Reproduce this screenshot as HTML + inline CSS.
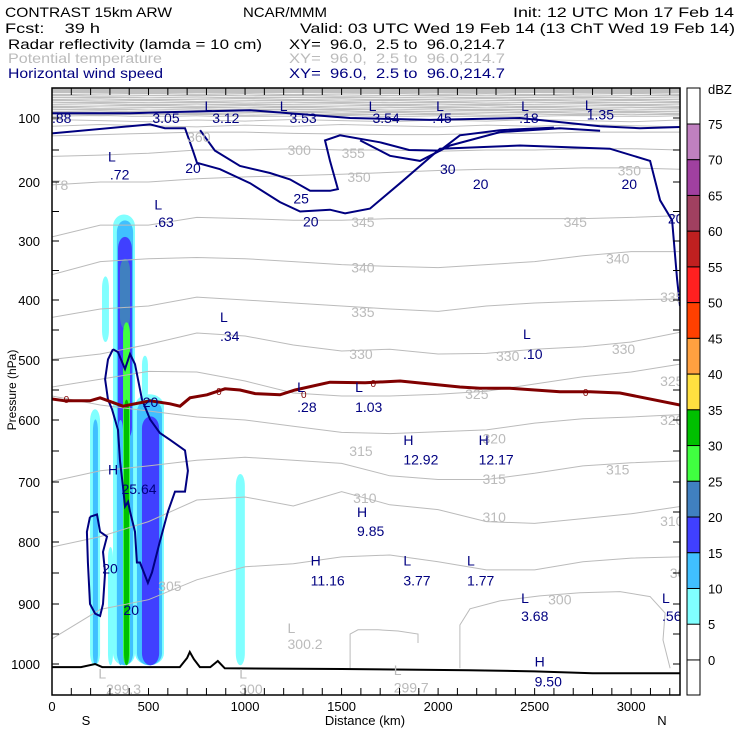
<!DOCTYPE html>
<html><head><meta charset="utf-8">
<style>
html,body{margin:0;padding:0;background:#fff;}
svg{display:block;font-family:"Liberation Sans",sans-serif;}
</style></head>
<body>
<svg id="chart" width="740" height="740" viewBox="0 0 740 740" xmlns="http://www.w3.org/2000/svg">
<g font-size="14">
<text x="5" y="17" textLength="167" lengthAdjust="spacingAndGlyphs">CONTRAST 15km ARW</text>
<text x="243" y="17" textLength="84" lengthAdjust="spacingAndGlyphs">NCAR/MMM</text>
<text x="513" y="17" textLength="221" lengthAdjust="spacingAndGlyphs">Init: 12 UTC Mon 17 Feb 14</text>
<text x="5" y="33" textLength="95" lengthAdjust="spacingAndGlyphs" xml:space="preserve">Fcst:    39 h</text>
<text x="300" y="33" textLength="435" lengthAdjust="spacingAndGlyphs">Valid: 03 UTC Wed 19 Feb 14 (13 ChT Wed 19 Feb 14)</text>
<text x="8" y="49" textLength="254" lengthAdjust="spacingAndGlyphs">Radar reflectivity (lamda = 10 cm)</text>
<text x="289" y="49" textLength="216" lengthAdjust="spacingAndGlyphs" xml:space="preserve">XY=  96.0,  2.5 to  96.0,214.7</text>
<text x="8" y="63" fill="#bbb" textLength="154" lengthAdjust="spacingAndGlyphs">Potential temperature</text>
<text x="289" y="63" fill="#bbb" textLength="216" lengthAdjust="spacingAndGlyphs" xml:space="preserve">XY=  96.0,  2.5 to  96.0,214.7</text>
<text x="8" y="78" fill="#000080" textLength="155" lengthAdjust="spacingAndGlyphs">Horizontal wind speed</text>
<text x="289" y="78" fill="#000080" textLength="216" lengthAdjust="spacingAndGlyphs" xml:space="preserve">XY=  96.0,  2.5 to  96.0,214.7</text>
</g>
<defs><clipPath id="plotclip"><rect x="52" y="88" width="628" height="607"/></clipPath></defs>
<g id="plot" clip-path="url(#plotclip)"></g>
<g id="overlay"></g>
</svg>
<script>
// ---- data ----
const pTicks = [100,200,300,400,500,600,700,800,900,1000];
const kmTicks = [0,500,1000,1500,2000,2500,3000];
const thetaNodesKm = [0,250,500,750,1000,1250,1500,1750,2000,2250,2500,2750,3000,3250];
const theta345 = [293,273,273,260,262,265,265,262,262,262,262,262,260,257];
const theta340 = [357,335,330,328,330,335,340,343,345,340,335,325,318,318];
const theta335 = [429,415,410,395,400,405,410,415,419,410,405,402,400,398];
const theta330 = [499,490,474,455,460,475,485,482,490,489,482,478,470,454];
const theta325 = [545,532,519,520,535,555,560,560,557,552,540,528,520,507];
const theta320 = [560,575,585,595,600,610,620,622,619,616,605,598,595,591];
const theta315 = [699,682,674,665,660,665,670,690,696,696,686,674,669,666];
const theta310 = [808,791,766,730,725,740,716,738,746,766,769,761,753,741];
const theta305 = [958,909,893,861,840,835,824,821,832,845,845,832,826,824];
const theta350 = [205,200,200,195,192,190,188,185,182,180,180,178,178,180];
const theta355 = [160,158,155,150,150,148,150,150,152,150,150,148,148,150];
const theta360 = [128,126,124,122,122,124,125,126,126,124,124,122,122,122];
const thetaBand = [60,64,68,72,76,80,84,88,92,96,104,112];
const theta300Right = [[2113,1007],[2113,935],[2165,908],[2320,895],[2527,887],[2735,882],[2942,880],[3098,888],[3176,915],[3165,960],[3202,1007]];
const theta299Closed = [[1544,1007],[1544,950],[1585,943],[1689,943],[1793,945],[1896,950],[1896,965]];
const freezingLine = [[0,565],[67,568],[197,568],[249,563],[368,577],[508,568],[611,573],[663,577],[715,563],[803,558],[896,548],[974,550],[1052,556],[1181,558],[1259,550],[1440,537],[1622,538],[1803,535],[1958,540],[2113,545],[2216,547],[2372,547],[2631,553],[2787,553],[2942,555],[3253,575]];
const surfaceKm  = [0,150,223,260,662,700,714,735,766,820,859,895,1500,2160,2500,2800,3253];
const surfaceHPa = [1005,1005,1000,1005,1005,990,980,992,1005,1005,995,1007,1008,1010,1012,1015,1015];
const wind20Top = [[0,92],[404,92],[637,90],[1026,87],[1544,100],[1958,103],[2424,100],[2839,113],[3046,116],[3253,114]];
const wind20Main = [[0,124],[508,110],[585,116],[689,116],[730,151],[751,170],[870,180],[1026,202],[1181,234],[1285,250],[1440,247],[1518,253],[1647,245],[1803,202],[2010,148],[2424,143],[2890,148],[3098,167],[3150,231],[3212,265],[3238,365],[3253,410]];
const wind25 = [[767,119],[844,151],[974,175],[1129,186],[1233,196],[1337,215],[1440,215],[1481,212],[1440,167],[1414,135],[1492,127],[1699,138],[1850,150],[2010,151],[2113,127],[2320,119],[2600,115]];
const wind30 = [[1596,135],[1751,159],[1906,167],[2062,143],[2320,122],[2631,116],[2839,120]];
const windStorm = [[316,482],[342,487],[378,515],[404,490],[430,507],[456,549],[466,566],[508,599],[559,621],[611,632],[689,649],[704,682],[689,716],[637,716],[601,749],[559,799],[518,849],[497,866],[456,833],[440,833],[430,783],[404,749],[394,733],[378,741],[368,708],[352,666],[342,616],[311,582],[290,566],[275,532],[290,499],[316,482]];
const windLow = [[197,758],[233,754],[249,783],[285,791],[264,816],[275,849],[264,900],[249,920],[223,916],[197,900],[186,833],[181,783],[197,758]];
// reflectivity cells: [km0, km1, hPaTop, hPaBottom, dBZ]
const reflCells = [
 [316,430,255,1002,5],[336,420,265,1002,10],[342,414,293,632,15],[352,404,330,448,20],
 [368,404,437,1002,25],[373,399,566,1002,30],
 [430,580,557,1002,5],[440,570,566,1002,10],[466,555,594,1002,15],[490,530,640,1002,15],
 [466,497,493,566,5],[197,249,582,1002,5],[212,238,599,1002,10],
 [259,295,360,470,5],[952,999,687,1002,5],[290,316,808,1002,5],[342,368,600,1002,10]
];
const cbLevels = [75,70,65,60,55,50,45,40,35,30,25,20,15,10,5,0];
const cbColors = ['#c080c0','#a040a0','#a04060','#c02020','#ff2020','#ff4000','#ffa040','#ffe040','#00c000','#40ff40','#4080c0','#4040ff','#40c0ff','#80ffff'];
const windLabels = [['.88',0,100],['3.05',520,100],['3.12',830,100],['3.53',1230,100],['3.54',1660,100],['.45',1970,100],['.18',2420,100],['1.35',2770,94],
 ['.72',300,188],['.63',530,268],['.34',870,460],['.28',1270,578],['1.03',1570,578],['.10',2440,490],['12.92',1820,664],['12.17',2210,664],['25.64',360,712],['9.85',1580,782],['11.16',1340,862],['3.77',1820,862],['1.77',2150,862],['3.68',2430,920],['.56',3160,920],['9.50',2500,1028]];
const hlMarks = [['L',790,80],['L',1180,80],['L',1640,80],['L',1990,80],['L',2430,80],['L',2760,78],['L',290,160],['L',530,238],['L',870,428],['L',1270,545],['L',1570,545],['L',2440,457],['H',1820,632],['H',2210,632],['H',290,680],['H',1580,750],['H',1340,830],['L',1820,830],['L',2150,830],['L',2430,890],['L',3160,890],['H',2500,996]];
const windNums = [['20',690,178],['25',1250,228],['20',1300,267],['30',2010,180],['20',2180,203],['20',2950,203],['20',3190,262],['20',470,570],['20',260,843],['20',370,910]];
const thetaLabels = [['350',1530,192],['350',2930,182],['345',1550,268],['345',2650,268],['340',1550,345],['340',2870,330],['335',1550,420],['335',3150,395],['330',1540,490],['330',2300,493],['330',2900,482],['325',2140,557],['325',3150,535],['320',2230,630],['320',3150,600],['315',1540,650],['315',2230,695],['315',2870,680],['310',1560,727],['310',2230,758],['310',3150,765],['305',550,871],['305',3200,850],['300',2570,893],['300.2',1220,967],['299.7',1770,1038],['300',970,1040],['299.3',280,1040],['360',700,130],['355',1500,155],['300',1220,150]];
const thetaTags = [['L',1220,940],['L',1770,1010],['L',970,1015],['L',240,1015],['T8',0,205]];

// ---- axes ----
const X0=52, X1=680, Y0=88, Y1=695;
const KM_PER_PX = 5.18;
function xs(km){ return X0 + km / KM_PER_PX; }
const pAxisP = [50,100,200,300,400,500,600,700,800,900,1000,1050];
const pAxisY = [88,118,182,241,300,360,420,482,542,604,664,695];
function yp(p){
  for(let i=0;i<pAxisP.length-1;i++){
    if(p<=pAxisP[i+1] || i===pAxisP.length-2){
      const t=(p-pAxisP[i])/(pAxisP[i+1]-pAxisP[i]);
      return pAxisY[i]+t*(pAxisY[i+1]-pAxisY[i]);
    }
  }
}
const NS='http://www.w3.org/2000/svg';
const plot=document.getElementById('plot');
const over=document.getElementById('overlay');
function mk(tag,attrs,parent){const e=document.createElementNS(NS,tag);for(const k in attrs)e.setAttribute(k,attrs[k]);parent.appendChild(e);return e;}
function ptsStr(arr){return arr.map(p=>xs(p[0]).toFixed(1)+','+yp(p[1]).toFixed(1)).join(' ');}

// top grey band
let band=mk('rect',{x:X0,y:Y0,width:X1-X0,height:yp(98)-Y0,fill:'#c0c0c0'},plot);


thetaBand.forEach((p,i)=>{
  const arr=thetaNodesKm.map((k,j)=>[k,p+((j*7+i*3)%5-2)*(p/120)]);
  let l=mk('polyline',{points:ptsStr(arr),fill:'none',stroke:i<10?'#fff':'#c0c0c0','stroke-width':i<10?0.7:1},plot);
  
  
});

// reflectivity
function colorFor(d){return cbColors[cbColors.length-d/5];}
reflCells.forEach(c=>{
  const x=xs(c[0]),w=xs(c[1])-x,y=yp(c[2]),h=yp(c[3])-y;
  let r=mk('rect',{x:x,y:y,width:w,height:h,rx:w/2,ry:Math.min(12,h/5),fill:colorFor(c[4])},plot);
  
  
});

// theta contours
const thetaSets=[theta360,theta355,theta350,theta345,theta340,theta335,theta330,theta325,theta320,theta315,theta310,theta305];
thetaSets.forEach(s=>{
  let l=mk('polyline',{points:ptsStr(thetaNodesKm.map((k,j)=>[k,s[j]])),fill:'none',stroke:'#bbb','stroke-width':1},plot);
  
  
});
[theta300Right,theta299Closed].forEach(s=>{
  let l=mk('polyline',{points:ptsStr(s),fill:'none',stroke:'#bbb','stroke-width':1},plot);
  
  
});

// wind contours
[wind20Top,wind20Main,wind25,wind30,windStorm,windLow].forEach(s=>{
  let l=mk('polyline',{points:ptsStr(s),fill:'none',stroke:'#000080','stroke-width':2},plot);
  
  
});

// freezing line
let fz=mk('polyline',{points:ptsStr(freezingLine),fill:'none',stroke:'#800000','stroke-width':3},plot);


[[60,565],[850,552],[1290,557],[1650,538],[2750,553]].forEach(p=>{
  let t=mk('text',{x:xs(p[0]),y:yp(p[1])+4,'font-size':10,fill:'#800000'},plot);
  t.textContent='0';
  
  
});

// surface
let sf=mk('polyline',{points:ptsStr(surfaceKm.map((k,i)=>[k,surfaceHPa[i]])),fill:'none',stroke:'#000','stroke-width':2},plot);



// labels
function lab(arr,color,name){
  arr.forEach(a=>{
    let t=mk('text',{x:xs(a[1]),y:yp(a[2])+5,'font-size':14,fill:color},plot);
    t.textContent=a[0];
    
    
  });
}
lab(thetaLabels,'#bbb','theta-label');
lab(thetaTags,'#bbb','theta-extremum');
lab(windLabels,'#000080','wind-extremum-value');
lab(hlMarks,'#000080','wind-extremum-marker');
lab(windNums,'#000080','wind-contour-label');

// frame & ticks
let fr=mk('rect',{x:X0,y:Y0,width:X1-X0,height:Y1-Y0,fill:'none',stroke:'#000','stroke-width':1.5},over);


for(let k=0;k<=3250;k+=100){
  const x=xs(k);
  let a=mk('line',{x1:x,x2:x,y1:Y1,y2:Y1-7,stroke:'#000'},over);
  
  
  let b=mk('line',{x1:x,x2:x,y1:Y0,y2:Y0+7,stroke:'#000'},over);
  
  
}
for(let p=100;p<=1050;p+=50){
  const y=yp(p);
  let a=mk('line',{x1:X0,x2:X0+7,y1:y,y2:y,stroke:'#000'},over);
  
  
  let b=mk('line',{x1:X1,x2:X1-7,y1:y,y2:y,stroke:'#000'},over);
  
  
}
pTicks.forEach(p=>{
  let t=mk('text',{x:40,y:yp(p)+5,'font-size':13,'text-anchor':'end'},over);
  t.textContent=String(p);
  
  
});
kmTicks.forEach(k=>{
  let t=mk('text',{x:xs(k),y:711,'font-size':13,'text-anchor':'middle'},over);
  t.textContent=String(k);
  
  
});
let xt=mk('text',{x:365,y:725,'font-size':13,'text-anchor':'middle'},over);
xt.textContent='Distance (km)';


let sl=mk('text',{x:86,y:725,'font-size':13,'text-anchor':'middle'},over);
sl.textContent='S';


let nl=mk('text',{x:662,y:725,'font-size':13,'text-anchor':'middle'},over);
nl.textContent='N';


let yt=mk('text',{x:16,y:390,'font-size':12,'text-anchor':'middle',transform:'rotate(-90 16 390)'},over);
yt.textContent='Pressure (hPa)';



// colorbar
const CBX=687, CBW=13;
function cby(v){ return 124 + (75 - v) * 35.73/5; }
let cbbg=mk('rect',{x:CBX,y:88,width:CBW,height:607,fill:'#fff',stroke:'#000'},over);


cbColors.forEach((c,i)=>{
  const top=cbLevels[i], bot=cbLevels[i+1];
  let r=mk('rect',{x:CBX,y:cby(top),width:CBW,height:cby(bot)-cby(top),fill:c,stroke:'#000','stroke-width':1},over);
  
  
});
let z=mk('line',{x1:CBX,x2:CBX+CBW,y1:cby(0),y2:cby(0),stroke:'#000'},over);


cbLevels.forEach(v=>{
  let t=mk('text',{x:708,y:cby(v)+5,'font-size':13},over);
  t.textContent=String(v);
  
  
});
let du=mk('text',{x:708,y:94,'font-size':13},over);
du.textContent='dBZ';


</script>
</body></html>
